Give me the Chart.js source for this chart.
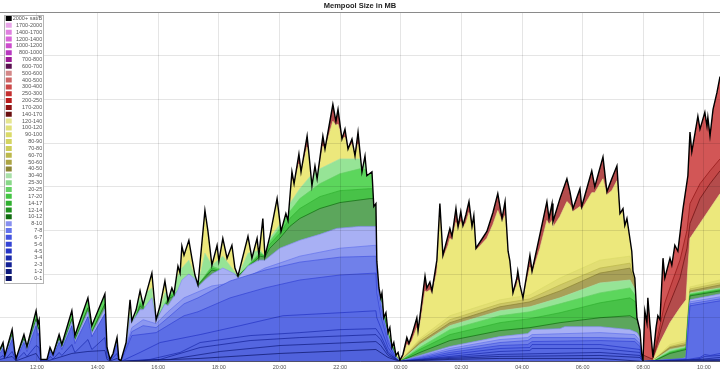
<!DOCTYPE html>
<html><head><meta charset="utf-8">
<script src="https://cdn.jsdelivr.net/npm/chart.js@4.4.1/dist/chart.umd.min.js"></script>
<style>html,body{margin:0;padding:0;background:#fff;}canvas{display:block;}</style>
</head><body>
<canvas id="c" width="720" height="375"></canvas>
<script>
// ---------- DATA (time in hours since 00:00 of day 1, size in MB; each band array holds the cumulative top of that fee band) ----------
const bandLabels = ['2000+ sat/B','1700-2000','1400-1700','1200-1400','1000-1200','800-1000','700-800','600-700','500-600','400-500','300-400','250-300','200-250','170-200','140-170','120-140','100-120','90-100','80-90','70-80','60-70','50-60','40-50','30-40','25-30','20-25','17-20','14-17','12-14','10-12','8-10','7-8','6-7','5-6','4-5','3-4','2-3','1-2','0-1'];

const bandLine = ['#000000','#e8a4e8','#e080e0','#d864d8','#cc4ccc','#b838c0','#9c1a94','#5a1050','#d48888','#cc6464','#cc4848','#c43030','#b81c1c','#901414','#6a1010','#e6e690','#e0e078','#dada68','#d4d460','#cccc58','#bcb84c','#aca444','#8c8434','#a8e0a8','#88d888','#64d064','#44c444','#30b030','#1e901e','#106c10','#8890f0','#6474ec','#4454e0','#3444d4','#2434c4','#1a2aac','#122094','#0e1a7c','#0a1264'];

const bandFill = ['#ffffff','#f0c0f0','#eaa0ea','#e488e4','#dc78dc','#cc68d0','#b850b0','#8a4880','#e0a8a8','#dc8c8c','#dc7474','#d85c5c','#d25656','#c44848','#b44c4c','#ece87c','#e8e47a','#e2de74','#dcd870','#d4d06c','#ccc668','#bcb460','#a8a058','#96e496','#80de80','#5cd65c','#52cc52','#48c248','#44b044','#5ca65c','#a8b0f4','#8c98f0','#7080ea','#5c6ee6','#586ae4','#5668e2','#5466e0','#5264de','#5062dc'];

// outline of the whole mempool (top of stack), in four stretches
const top_A = [[10.78,6],[10.88,9.5],[10.94,3],[11.18,16],[11.27,4.5],[11.31,1.5],[11.57,13.5],[11.67,7.5],[11.97,25.5],[12.03,19],[12.07,21],[12.13,1],[12.33,1],[12.43,7],[12.53,3.5],[12.73,13.5],[12.82,8.5],[13.15,25.5],[13.25,13],[13.68,32],[13.81,18],[14.24,34],[14.31,7],[14.41,1],[14.51,4],[14.64,12],[14.70,1]];
const top_B = [[14.77,0.5],[14.94,9.5],[15.07,31],[15.13,20.5],[15.27,26],[15.40,35.5],[15.50,28.5],[15.79,44.5],[15.93,21],[16.06,28],[16.22,40.5],[16.32,30.5],[16.45,37],[16.52,34],[16.65,48],[16.72,44.5],[16.78,58],[16.85,53.5],[17.01,61],[17.11,52],[17.21,43.5],[17.31,38.5],[17.54,76],[17.64,65.5],[17.77,48.5],[17.94,58.5],[18.00,50.5],[18.13,62],[18.27,52],[18.43,58.5],[18.53,47],[18.63,43],[18.96,63],[19.09,52],[19.26,62],[19.32,53.5],[19.45,72],[19.52,53],[19.68,63],[19.92,82],[20.05,65.5],[20.21,74.5],[20.28,71],[20.41,95.5],[20.48,89.5],[20.64,104.5],[20.71,95.5],[20.91,113.5],[20.97,104.5],[21.07,88.5],[21.17,98.5],[21.24,92],[21.43,113.5],[21.50,107],[21.76,129.5],[21.86,121],[21.93,127],[22.06,112],[22.16,117],[22.26,107],[22.39,112],[22.49,103.5],[22.59,115.5],[22.72,95.5],[22.82,103.5],[22.88,93.5],[23.05,95.5],[23.11,78],[23.18,79.5],[23.21,50.5],[23.28,37],[23.34,32],[23.38,34.5],[23.44,22],[23.51,24.5],[23.58,14.5],[23.64,17],[23.71,7],[23.77,9.5],[23.84,3],[23.91,4.5]];
const top_C = [[23.97,0.5],[24.07,3.5],[24.20,12],[24.27,9],[24.37,13.5],[24.53,22],[24.57,15.5],[24.66,26],[24.80,43],[24.86,37],[24.96,40],[25.03,35.5],[25.19,51],[25.29,79.5],[25.39,53.5],[25.56,63.5],[25.62,67],[25.69,63],[25.82,77],[25.89,68],[25.98,75.5],[26.05,68.5],[26.15,74],[26.25,80.5],[26.35,68],[26.41,73.5],[26.48,57],[26.84,65.5],[27.04,75],[27.20,84.5],[27.34,72],[27.44,80.5],[27.54,55.5],[27.60,50.5],[27.70,34.5],[27.83,42],[27.86,45.5],[27.93,38.5],[28.03,32],[28.26,53.5],[28.33,45.5],[28.59,64],[28.82,80.5],[28.89,72],[28.99,79.5],[29.02,70.5],[29.25,82],[29.48,92],[29.58,85.5],[29.68,77],[29.91,87],[29.97,78],[30.30,96],[30.40,88],[30.67,103],[30.80,85.5],[30.96,92],[31.13,98.5],[31.23,74.5],[31.33,77],[31.39,68.5],[31.46,72],[31.62,55.5],[31.66,45.5],[31.72,42],[31.79,22],[31.89,15.5],[31.95,3.5]];
const top_D = [[31.99,0.5],[32.05,25.5],[32.12,19.5],[32.15,32],[32.22,18.5],[32.32,2],[32.42,17],[32.48,23],[32.55,21],[32.65,52],[32.71,42],[32.88,52],[32.94,48.5],[33.04,58.5],[33.14,55.5],[33.31,77],[33.47,93.5],[33.54,115.5],[33.60,105.5],[33.80,123.5],[33.87,117],[34.03,125.5],[34.10,118.5],[34.13,123],[34.20,113.5],[34.30,127],[34.43,135.5],[34.53,143.5]];

const mb_2000 = [...top_A, ...top_B, ...top_C, ...top_D];
const mb_1700_2000 = [], mb_1400_1700 = [], mb_1200_1400 = [], mb_1000_1200 = [], mb_800_1000 = [];
const mb_700_800 = [], mb_600_700 = [], mb_500_600 = [], mb_400_500 = [], mb_300_400 = [], mb_250_300 = [];
const mb_200_250 = [...top_D];
const mb_170_200 = [[31.99,0],[32.32,1.5],[32.55,18],[32.71,29.5],[32.88,37],[33.21,51],[33.44,66],[33.54,79.5],[33.87,89.5],[34.20,96],[34.53,102]];
const mb_140_170 = [...top_B, ...top_C, [32.32,1],[32.55,14.5],[32.71,23],[32.88,29.5],[33.21,42],[33.44,57],[33.54,69.5],[33.87,82],[34.20,89.5],[34.53,96]];
const mb_120_140 = [[14.77,0.5],[14.94,9.5],[15.07,31],[15.13,20.5],[15.27,26],[15.40,35.5],[15.50,28.5],[15.79,44.5],[15.93,21],[16.06,28],[16.22,40.5],[16.32,30.5],[16.45,37],[16.52,34],[16.65,48],[16.72,44.5],[16.78,58],[16.85,53.5],[17.01,61],[17.11,52],[17.21,43.5],[17.31,38.5],[17.54,76],[17.64,65.5],[17.77,48.5],[17.94,58.5],[18.00,50.5],[18.13,62],[18.27,52],[18.43,58.5],[18.53,47],[18.63,43],[18.96,63],[19.09,52],[19.26,62],[19.32,53.5],[19.45,72],[19.52,53],[19.68,63],[19.92,82],[20.05,65.5],[20.21,74.5],[20.28,71],[20.41,92],[20.48,89.5],[20.64,99.5],[20.71,95.5],[20.91,108],[20.97,104.5],[21.07,88.5],[21.17,96],[21.24,92],[21.43,108.5],[21.50,107],[21.76,121],[21.86,119],[21.93,119.5],[22.06,112],[22.16,113],[22.26,107],[22.39,109.5],[22.49,103.5],[22.59,109.5],[22.72,95.5],[22.82,101],[22.88,93.5],[23.05,93],[23.11,78],[23.18,78],[23.21,50.5],[23.28,37],[23.34,32],[23.38,34.5],[23.44,22],[23.51,24.5],[23.58,14.5],[23.64,17],[23.71,7],[23.77,9.5],[23.84,3],[23.91,4.5],[23.97,0.5],
  [24.07,2],[24.20,8.5],[24.27,8],[24.37,10.5],[24.53,17],[24.57,14.5],[24.66,21],[24.80,35.5],[24.86,35],[24.96,36],[25.03,34],[25.19,45],[25.29,73],[25.39,52],[25.56,58.5],[25.62,62],[25.69,61],[25.82,70],[25.89,66.5],[25.98,70.5],[26.05,67.5],[26.15,70],[26.25,75],[26.35,66.5],[26.41,70],[26.48,56],[26.84,62],[27.04,69],[27.20,76],[27.34,70.5],[27.44,73.5],[27.54,54],[27.60,49.5],[27.70,34],[27.83,38.5],[27.86,41],[27.93,37.5],[28.03,31.5],[28.26,47.5],[28.33,44],[28.59,57],[28.82,71],[28.89,69],[28.99,71],[29.02,67.5],[29.25,73],[29.48,80.5],[29.58,79],[29.68,75.5],[29.91,78],[29.97,76.5],[30.30,85],[30.40,85],[30.67,92],[30.80,84],[30.96,86],[31.13,91],[31.23,74],[31.33,75.5],[31.39,68],[31.46,70.5],[31.62,55],[31.66,45.5],[31.72,42],[31.79,22],[31.89,15.5],[31.95,3.5],[31.99,0],
  [32.32,0.5],[32.55,9.5],[32.88,19.5],[33.21,27],[33.41,31],[33.47,47],[33.54,62],[33.87,69.5],[34.20,77],[34.53,84.5]];
const mb_100_120 = [];
const mb_90_100 = [[23.97,0],[24.63,11.5],[25.62,23],[27.27,31],[28.26,33.5],[29.25,42],[30.57,51],[31.56,53],[31.89,34],[31.99,0],[32.32,0.5],[32.88,8.5],[33.41,10.5],[33.54,37.5],[34.53,41]];
const mb_80_90 = [], mb_70_80 = [];
const mb_60_70 = [[23.97,0],[24.63,10.5],[25.62,21],[27.27,29],[28.26,31.5],[29.25,38.5],[30.57,47],[31.56,49.5],[31.89,33],[31.99,0],[32.32,0.5],[32.88,7.5],[33.41,9.5],[33.54,36.5],[34.53,39.5]];
const mb_50_60 = [];
const mb_40_50 = [[23.97,0],[24.63,9.5],[25.62,19.5],[27.27,27.5],[28.26,30],[29.25,35.5],[30.57,44.5],[31.56,47],[31.89,32],[31.99,0],[32.32,0.5],[32.88,7],[33.41,8.5],[33.47,22],[33.54,35.5],[34.53,38.5]];
const mb_30_40 = [[14.77,0],[14.94,6],[15.07,24.5],[15.40,32],[15.79,37],[15.93,21],[16.22,34.5],[16.39,35.5],[16.78,47],[17.01,51],[17.31,38.5],[17.54,54.5],[17.77,48.5],[18.13,53],[18.63,43],[18.96,54.5],[19.36,56],[19.52,53],[19.68,62],[20.01,69],[20.34,79.5],[20.67,87],[21.00,93],[21.33,97],[21.99,102],[22.65,102],[23.18,99.5],[23.21,51],[23.34,33],[23.58,15],[23.84,3],[23.97,0],[24.63,8.5],[25.62,18],[27.27,25.5],[28.26,27.5],[29.25,32],[30.57,39.5],[31.56,41],[31.79,34.5],[31.89,24.5],[31.99,0],[32.32,0.5],[32.88,6],[33.41,7.5],[33.47,21],[33.54,34.5],[34.53,37]];
const mb_25_30 = [];
const mb_20_25 = [...top_A, [14.77,0],[15.40,30],[15.93,21],[16.39,34],[17.31,38.5],[17.77,48],[18.63,43],[19.36,55],[19.52,53],[19.68,60.5],[20.01,67],[20.34,75.5],[20.67,82],[21.33,89.5],[21.99,94.5],[22.65,97],[23.18,96],[23.21,51],[23.34,32.5],[23.58,14.5],[23.84,3],[23.97,0],[24.63,7],[25.62,16],[27.27,23],[28.26,25],[29.25,29],[30.57,34.5],[31.56,37],[31.79,32],[31.89,23],[31.99,0],[32.32,0],[32.88,5],[33.41,7],[33.47,20.5],[33.54,34],[34.53,36.5]];
const mb_17_20 = [];
const mb_14_17 = [[14.77,0],[15.40,29],[15.93,21],[16.39,33],[17.31,38.5],[17.77,47],[18.63,43],[19.36,54],[19.52,53],[19.68,59],[20.01,64.5],[20.34,72],[20.67,77],[21.33,83],[21.99,86],[22.98,87],[23.18,87],[23.21,51],[23.34,32],[23.58,14.5],[23.84,2.5],[23.97,0],[24.63,6],[25.62,13.5],[27.27,19.5],[28.26,21.5],[29.25,24.5],[30.57,29.5],[31.56,32],[31.79,29.5],[31.89,21],[31.99,0],[32.32,0],[32.88,4.5],[33.41,6.5],[33.47,20],[33.54,33.5],[34.53,36]];
const mb_12_14 = [];
const mb_10_12 = [[10.78,5],[10.88,8],[10.94,2.5],[11.18,13.5],[11.27,4],[11.31,1.2],[11.57,11.5],[11.67,6.5],[11.97,21.5],[12.03,16],[12.07,17.5],[12.13,0.8],[12.33,0.8],[12.43,6],[12.53,3],[12.73,11.5],[12.82,7],[13.15,21.5],[13.25,11],[13.68,27],[13.81,15],[14.24,29],[14.31,6],[14.41,0.8],[14.51,3.4],[14.64,10],[14.70,0.8],[14.77,0],[15.40,28],[15.93,21],[16.39,32],[17.31,38.5],[17.77,46],[18.63,43],[19.36,53],[19.52,52.5],[19.68,57],[20.01,62],[20.34,68],[20.67,72],[21.33,77],[21.99,80],[22.98,82],[23.18,82],[23.21,50],[23.34,32],[23.58,14],[23.84,2.5],[23.97,0],[24.63,4.5],[25.62,10.5],[27.27,15.5],[28.26,17],[29.25,19.5],[30.57,22],[31.56,23],[31.79,21],[31.89,17],[31.95,4],[31.99,0],[32.32,0],[32.88,4],[33.41,6],[33.47,19.5],[33.54,33],[34.53,35.5]];
const mb_8_10 = [[10.78,4.7],[10.88,7.4],[10.94,2.3],[11.18,12.5],[11.27,3.5],[11.31,1.2],[11.57,10.5],[11.67,5.9],[11.97,20],[12.03,14.8],[12.07,16.4],[12.13,0.8],[12.33,0.8],[12.43,5.5],[12.53,2.7],[12.73,10.5],[12.82,6.6],[13.15,20],[13.25,10],[13.68,25],[13.81,14],[14.24,26.5],[14.31,5.5],[14.41,0.8],[14.51,3.1],[14.64,9.4],[14.70,0.8],[14.77,0],[14.94,6],[15.07,22],[15.13,19.5],[15.40,26],[15.50,26],[15.79,32],[15.93,20.5],[16.22,29],[16.32,28],[16.65,36],[16.78,41],[17.01,44],[17.21,41.5],[17.31,37.5],[17.54,41],[17.77,44],[18.13,47],[18.27,46],[18.53,44],[18.63,42],[18.96,48],[19.32,51],[19.52,51],[19.68,53],[20.01,57],[20.67,61],[21.33,64],[21.89,67],[22.65,68],[23.18,68],[23.21,48],[23.28,36],[23.34,31],[23.44,21],[23.58,13.5],[23.71,6],[23.84,2.5],[23.97,0],[24.63,3],[25.62,7.5],[27.27,12.5],[28.19,14],[28.33,16],[29.25,16.5],[29.41,17.5],[30.57,17.5],[31.56,16],[31.79,14.5],[31.89,12],[31.95,3],[31.99,0],[33.21,1],[33.41,2],[33.47,17],[33.54,31],[33.87,32],[34.53,34]];
const mb_7_8 = [[14.77,0],[15.13,17],[15.50,21],[15.93,19],[16.32,25],[16.85,32],[17.31,35],[17.77,38],[18.63,40],[19.52,47],[20.67,53],[21.99,57],[23.18,58.5],[23.21,44.5],[23.34,29],[23.58,12],[23.84,2],[23.97,0],[24.63,2.5],[25.62,6.5],[27.27,11],[28.19,12],[28.33,13.5],[30.57,14.5],[31.72,13.5],[31.89,10.5],[31.99,0],[33.41,1.5],[33.47,15.5],[33.54,30],[34.53,32.5]];
const mb_6_7 = [[14.77,0],[15.13,15],[15.50,18],[15.93,17],[16.32,22],[16.85,29],[17.31,32],[18.37,40.5],[19.52,46],[20.67,50],[21.99,52.5],[23.18,53],[23.21,41],[23.34,27],[23.58,11],[23.84,1.5],[23.97,0],[24.63,2],[25.62,5.5],[27.27,9.5],[28.19,10.5],[28.33,12],[30.57,12],[31.72,11.5],[31.89,9],[31.99,0],[33.41,1.5],[33.47,14.5],[33.54,29],[34.53,31.5]];
const mb_5_6 = [[10.78,4],[10.88,6.5],[10.94,2],[11.18,11],[11.27,3],[11.31,1],[11.57,9.5],[11.67,5],[11.97,18],[12.03,13],[12.07,14.5],[12.13,0.7],[12.33,0.7],[12.43,5],[12.53,2.5],[12.73,9.5],[12.82,6],[13.15,18],[13.25,9],[13.68,22.5],[13.81,12.5],[14.24,24],[14.31,5],[14.41,0.7],[14.51,2.8],[14.64,8.5],[14.70,0.7],[14.77,0],[15.13,13],[15.93,14.5],[16.85,23],[17.31,25],[18.37,32],[19.52,37],[20.67,41],[21.99,43.5],[23.18,44.5],[23.21,34.5],[23.34,23],[23.58,9.5],[23.84,1.5],[23.97,0],[24.63,1.5],[25.62,4.5],[27.27,8],[28.19,8.5],[28.33,10],[30.57,10.5],[31.72,10],[31.89,7.5],[31.99,0],[33.41,1],[33.47,13.5],[33.54,28],[34.53,30.5]];
const mb_4_5 = [[14.77,0],[15.40,4.5],[16.06,9.5],[17.38,13.5],[18.70,18],[20.11,23],[21.99,24.5],[23.18,25.5],[23.21,22],[23.34,17],[23.58,7],[23.84,1],[23.97,0],[24.63,1],[25.62,3.5],[27.27,6.5],[28.26,7],[28.33,8.5],[30.57,8.5],[31.89,6],[31.99,0],[33.47,1],[33.87,2],[34.03,3.5],[34.20,3],[34.53,4]];
const mb_3_4 = [[10.78,2],[10.88,3],[10.94,1],[11.18,5],[11.31,0.5],[11.57,4.5],[11.67,2.5],[11.97,8],[12.07,7],[12.13,0.3],[12.33,0.3],[12.43,2.5],[12.53,1.2],[12.73,4.5],[12.82,3],[13.15,8.5],[13.25,4.5],[13.68,11],[13.81,6],[14.24,12],[14.31,2.5],[14.41,0.3],[14.64,4],[14.70,0.3],[14.77,0],[15.73,1],[16.72,4.5],[17.38,9.5],[19.03,13],[20.67,14.5],[21.99,16],[23.18,16.5],[23.34,13],[23.58,5],[23.84,1],[23.97,0],[25.62,2.5],[27.27,5],[28.26,5.5],[28.33,6.5],[30.57,6.5],[31.89,4.5],[31.99,0],[33.47,0.5],[33.87,1.5],[34.03,2.5],[34.53,3]];
const mb_2_3 = [[14.77,0],[16.06,1],[17.38,7],[19.03,10.5],[20.67,12],[23.18,13.5],[23.34,11],[23.58,4],[23.97,0],[25.62,2],[27.27,3.5],[30.57,4.5],[31.89,3],[31.99,0],[33.87,1],[34.53,2]];
const mb_1_2 = [[10.78,1],[11.18,2.5],[11.31,0.3],[11.97,4],[12.13,0.2],[12.33,0.2],[12.73,2],[13.15,4],[13.68,5],[14.24,5.5],[14.31,1],[14.41,0.2],[14.64,1.5],[14.77,0],[16.39,1],[18.04,5],[20.01,8],[23.18,10],[23.34,8],[23.58,3],[23.97,0],[25.62,1.5],[27.27,2.5],[30.57,3],[31.89,2],[31.99,0],[34.53,1]];
const mb_0_1 = [[14.77,0],[17.38,1.5],[20.01,4],[23.18,6],[23.58,2],[23.97,0],[25.62,1],[27.27,1.5],[30.57,1.5],[31.99,0],[34.53,0.5]];

const timeRange = [10.78, 34.53];   // 10:47 -> 10:32 next day
const sizeRange = [0, 176];

// ---------- CHART ----------
const bandData = [mb_2000, mb_1700_2000, mb_1400_1700, mb_1200_1400, mb_1000_1200, mb_800_1000, mb_700_800, mb_600_700, mb_500_600, mb_400_500, mb_300_400, mb_250_300, mb_200_250, mb_170_200, mb_140_170, mb_120_140, mb_100_120, mb_90_100, mb_80_90, mb_70_80, mb_60_70, mb_50_60, mb_40_50, mb_30_40, mb_25_30, mb_20_25, mb_17_20, mb_14_17, mb_12_14, mb_10_12, mb_8_10, mb_7_8, mb_6_7, mb_5_6, mb_4_5, mb_3_4, mb_2_3, mb_1_2, mb_0_1];

const n = bandLabels.length;
const datasets = bandLabels.map((label, i) => ({
  label,
  data: bandData[i],
  borderColor: bandLine[i],
  backgroundColor: bandFill[i],
  borderWidth: i === 0 ? 1.4 : 0.7,
  fill: i === 0 ? 'end' : 'origin',
  order: i === 0 ? 0 : n - i,
  pointRadius: 0,
  pointHoverRadius: 0,
  tension: 0
}));

function clock(v) {
  const r = Math.round(v);
  if (Math.abs(v - r) > 1e-6 || r % 2) return null;
  return String(r % 24).padStart(2, '0') + ':00';
}

const legendFrame = {
  id: 'legendFrame',
  afterLayout(chart) {
    const lg = chart.legend;
    if (!lg) return;
    lg.left = 4.4; lg.top = 14.4; lg.right = 42.2; lg.bottom = chart.chartArea.bottom;
  },
  afterDraw(chart) {
    const ctx = chart.ctx;
    ctx.save();
    ctx.fillStyle = '#ffffff';
    ctx.fillRect(4, 15, 40, 269);
    ctx.strokeStyle = '#b4b4b4';
    ctx.lineWidth = 1;
    ctx.strokeRect(4.5, 15.5, 39, 268);
    ctx.restore();
    chart.legend.draw();
  }
};

new Chart(document.getElementById('c'), {
  type: 'line',
  data: { datasets },
  options: {
    responsive: false,
    animation: false,
    devicePixelRatio: 1,
    events: [],
    layout: { padding: { left: 0, right: 0, top: 0, bottom: 2 } },
    plugins: {
      title: {
        display: true, text: 'Mempool Size in MB', color: '#222',
        font: { family: 'Liberation Sans', size: 7.5, weight: 'bold' },
        padding: { top: 1, bottom: 2 }
      },
      legend: {
        position: 'chartArea', align: 'start',
        labels: {
          boxWidth: 6, boxHeight: 5, padding: 1.34, color: '#555', textAlign: 'right',
          font: { family: 'Liberation Sans', size: 5.5 },
          sort: (a, b) => a.datasetIndex - b.datasetIndex,
          generateLabels(chart) {
            const items = Chart.defaults.plugins.legend.labels.generateLabels(chart);
            items.forEach(it => {
              const ds = chart.data.datasets[it.datasetIndex];
              it.fillStyle = ds.borderColor; it.strokeStyle = ds.borderColor; it.lineWidth = 0;
            });
            return items;
          }
        }
      },
      tooltip: { enabled: false }
    },
    scales: {
      x: {
        type: 'linear', min: timeRange[0], max: timeRange[1],
        grid: { color: 'rgba(0,0,0,0.10)', z: 1, drawTicks: false },
        border: { color: '#50506a', z: 2 },
        ticks: {
          stepSize: 2, includeBounds: false, autoSkip: false, maxRotation: 0, padding: 2.5,
          color: '#555', font: { family: 'Liberation Sans', size: 5.5 },
          callback: v => clock(v)
        }
      },
      y: {
        min: sizeRange[0], max: sizeRange[1],
        ticks: { display: false, stepSize: 22 },
        grid: { color: c => (c.tick && c.tick.value === sizeRange[1]) ? '#8a8a8a' : 'rgba(0,0,0,0.10)', z: 1, drawTicks: false },
        border: { display: false }
      }
    }
  },
  plugins: [legendFrame]
});
</script>
</body></html>
